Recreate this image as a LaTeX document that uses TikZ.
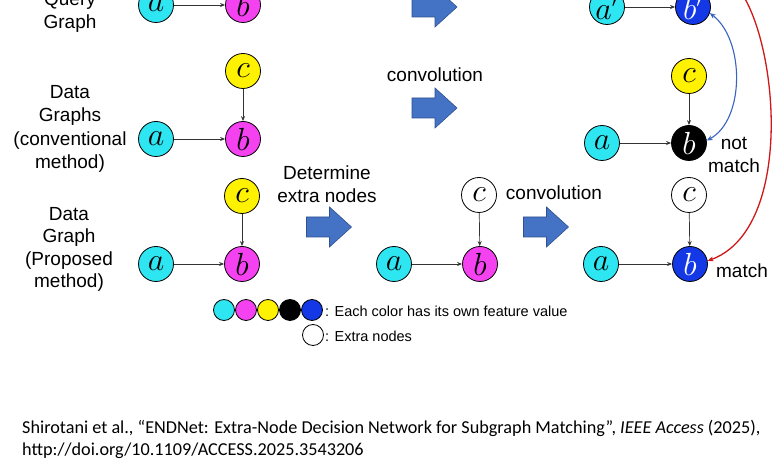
\RequirePackage{fix-cm}
\documentclass[tikz,border=0pt]{standalone}
\usepackage{fontspec}
\setmainfont{Liberation Sans}
\newfontfamily\citefont{Carlito}
\usetikzlibrary{arrows.meta}
\definecolor{ncyan}{HTML}{2EE6F2}
\definecolor{nmag}{HTML}{F542F0}
\definecolor{nyel}{HTML}{FFF200}
\definecolor{nblue}{HTML}{1438E6}
\definecolor{arrowblue}{HTML}{4472C4}
\definecolor{arrowedge}{HTML}{2F528F}
\definecolor{redline}{HTML}{D01818}
\definecolor{blueline}{HTML}{3A62C0}
\tikzset{
  gnode/.style={circle, draw=black, line width=0.8pt, minimum size=35pt, inner sep=0pt,
    font=\fontsize{32}{32}\selectfont},
  lnode/.style={circle, draw=black, line width=0.8pt, minimum size=21pt, inner sep=0pt},
  edge/.style={-{Stealth[length=5pt,width=4pt]}, line width=0.7pt, black!80},
  lbl/.style={font=\fontsize{19}{23.3}\selectfont, align=center, inner sep=0pt},
  leg/.style={font=\fontsize{14.5}{17}\selectfont, anchor=west, inner sep=0pt},
  blockarrow/.pic={\draw[fill=arrowblue, draw=arrowedge, line width=0.6pt]
    (-22.5,-10) -- (0.5,-10) -- (0.5,-20) -- (22.5,0) -- (0.5,20) -- (0.5,10) -- (-22.5,10) -- cycle;}
}
\begin{document}
\begin{tikzpicture}[x=1pt,y=-1pt]
\path[use as bounding box] (0,0) rectangle (780,470);
\clip (0,0) rectangle (780,470);
\fill[white] (0,0) rectangle (780,470);
% row labels
\node[lbl] (lq) at (70,12) {Query\\Graph};
\node[lbl] (l2) at (70,129) {Data\\Graphs\\(conventional\\method)};
\node[lbl, font=\fontsize{19}{22.5}\selectfont] (l3) at (69,249.5) {Data\\Graph\\(Proposed\\method)};
% query graph
\node[gnode, fill=ncyan] (qa) at (156,5) {$a$};
\node[gnode, fill=nmag] (qb) at (243,5) {$b$};
\draw[edge] (qa) -- (qb);
% conventional data graph
\node[gnode, fill=nyel] (c2) at (243,71) {$c$};
\node[gnode, fill=ncyan] (a2) at (156,139) {$a$};
\node[gnode, fill=nmag] (b2) at (243,139) {$b$};
\draw[edge] (a2) -- (b2);
\draw[edge] (c2) -- (b2);
% proposed data graph
\node[gnode, fill=nyel] (c3) at (242,196) {$c$};
\node[gnode, fill=ncyan] (a3) at (156,264) {$a$};
\node[gnode, fill=nmag] (b3) at (242,264) {$b$};
\draw[edge] (a3) -- (b3);
\draw[edge] (c3) -- (b3);
% middle graph with extra node
\node[gnode, fill=white] (mc) at (479,195) {$c$};
\node[gnode, fill=ncyan] (ma) at (394,264) {$a$};
\node[gnode, fill=nmag] (mb) at (480,264) {$b$};
\draw[edge] (ma) -- (mb);
\draw[edge] (mc) -- (mb);
% block arrows and texts
\pic at (434.5,7) {blockarrow};
\pic at (434.5,108) {blockarrow};
\pic at (329,227) {blockarrow};
\pic at (546,227) {blockarrow};
\node[lbl] (conv1) at (435,75) {convolution};
\node[lbl] (det) at (327,184) {Determine\\extra nodes};
\node[lbl] (conv2) at (554,193) {convolution};
% right: query after convolution
\node[gnode, fill=ncyan] (ra1) at (607,7) {$a'$};
\node[gnode, fill=nblue, text=white] (rb1) at (693,7) {$b'$};
\draw[edge] (ra1) -- (rb1);
% right: conventional after convolution
\node[gnode, fill=nyel] (rc2) at (689,76) {$c$};
\node[gnode, fill=ncyan] (ra2) at (602,143) {$a$};
\node[gnode, fill=black, text=white] (rb2) at (689,143) {$b$};
\draw[edge] (ra2) -- (rb2);
\draw[edge] (rc2) -- (rb2);
% right: proposed after convolution
\node[gnode, fill=white] (rc3) at (689,195) {$c$};
\node[gnode, fill=ncyan] (ra3) at (601,264) {$a$};
\node[gnode, fill=nblue, text=white] (rb3) at (690,264) {$b$};
\draw[edge] (ra3) -- (rb3);
\draw[edge] (rc3) -- (rb3);
% comparisons
\draw[blueline, line width=1.1pt, {Stealth[length=6pt,width=5pt]}-{Stealth[length=6pt,width=5pt]}]
  (rb1.-20) .. controls (745,40) and (745,120) .. (rb2.8);
\draw[redline, line width=1.3pt, {Stealth[length=6pt,width=5pt]}-{Stealth[length=6pt,width=5pt]}]
  (rb1.north) .. controls (760,-90) and (820,220) .. (rb3.10);
\node[lbl] (nm) at (734,155) {not\\match};
\node[lbl] (m) at (742,271) {match};
% legend
\node[lnode, fill=ncyan] (k1) at (224,310) {};
\node[lnode, fill=nmag] (k2) at (246,310) {};
\node[lnode, fill=nyel] (k3) at (268,310) {};
\node[lnode, fill=black] (k4) at (290,310) {};
\node[lnode, fill=nblue] (k5) at (312,310) {};
\node[leg] (kt1) at (325,311) {: Each color has its own feature value};
\node[lnode, fill=white] (k6) at (313,335) {};
\node[leg] (kt2) at (325,336) {: Extra nodes};
% citation
\node[font=\citefont\fontsize{18.2}{21.5}\selectfont, anchor=north west, align=left, inner sep=0pt] (cite) at (22,420)
  {Shirotani et al., “ENDNet: Extra-Node Decision Network for Subgraph Matching”, \textit{IEEE Access} (2025),\\http://doi.org/10.1109/ACCESS.2025.3543206};
\end{tikzpicture}
\end{document}
